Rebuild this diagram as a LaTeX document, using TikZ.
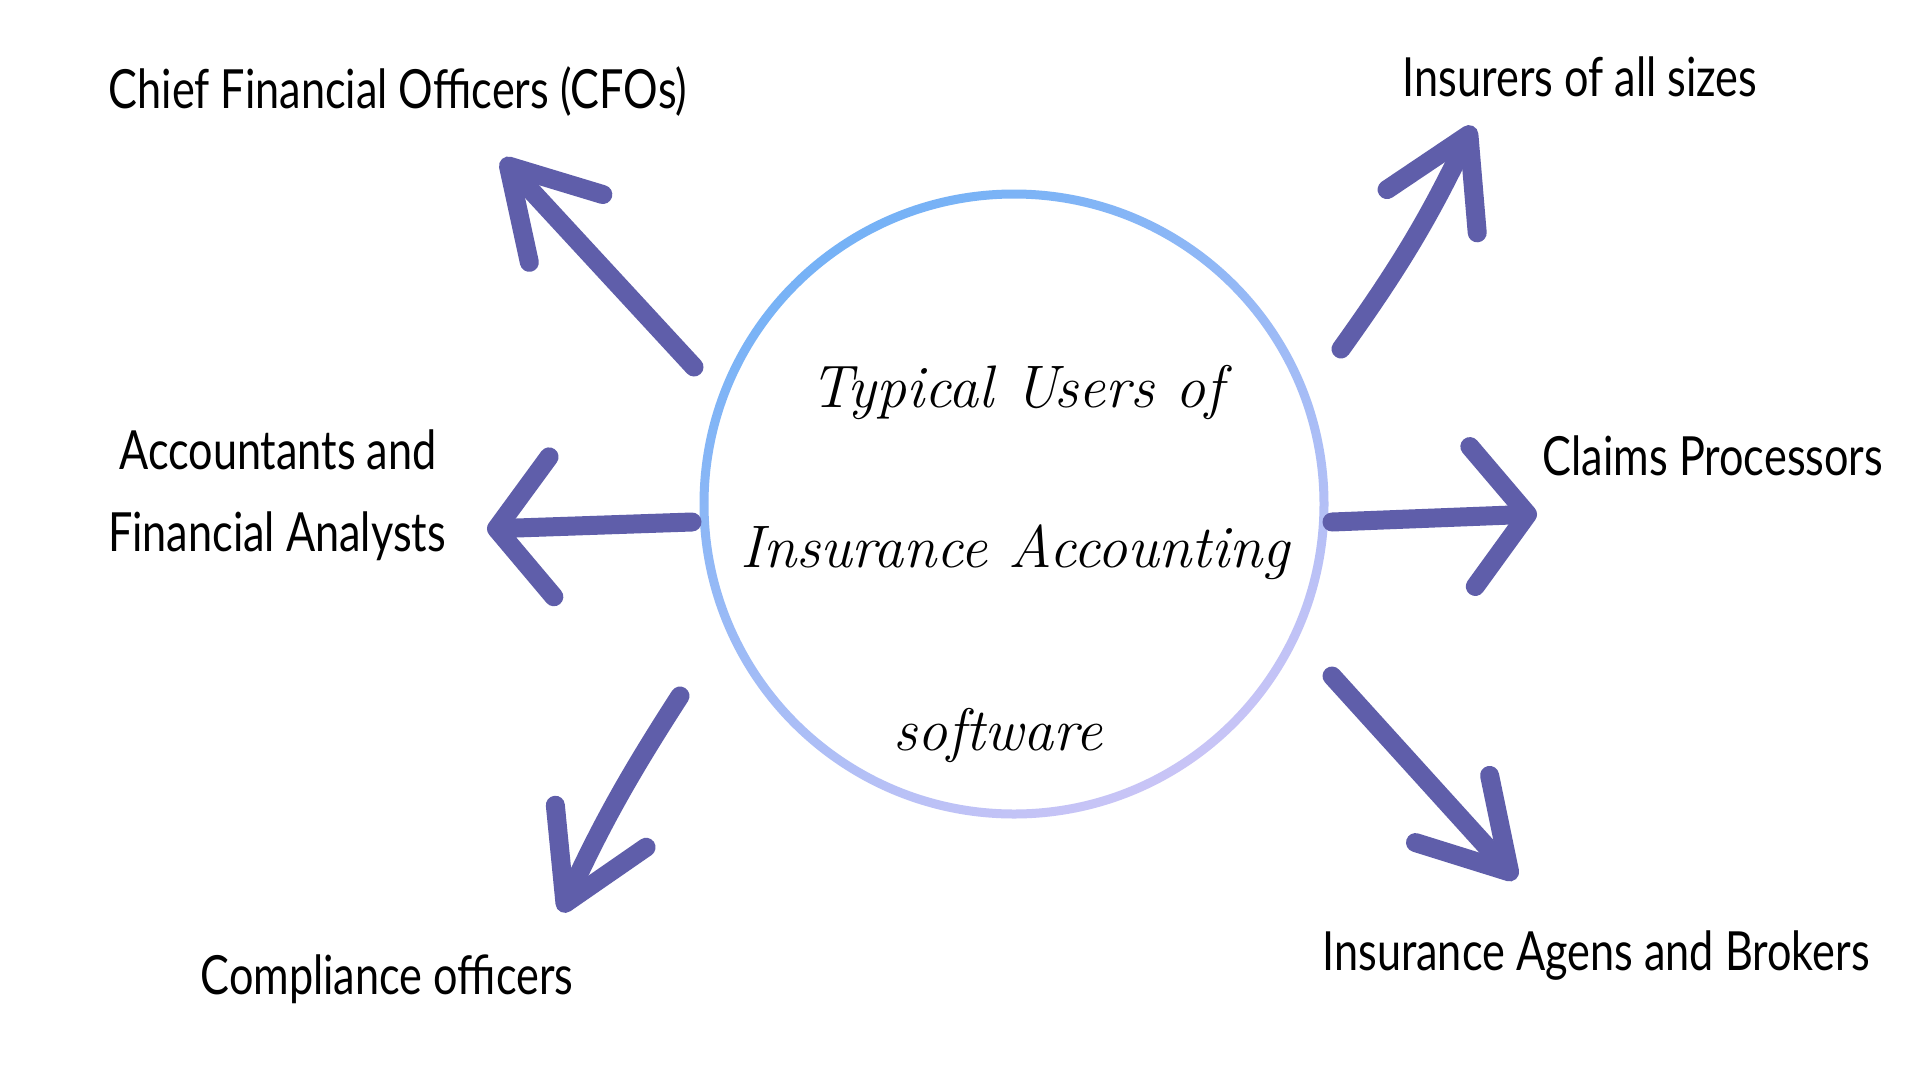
\documentclass[tikz,border=0pt]{standalone}
\usepackage{fontspec}
\newfontfamily\handfont[FakeStretch=0.8]{Lato}
\usetikzlibrary{arrows.meta,positioning}
\definecolor{arrowblue}{RGB}{95,94,170}
\definecolor{ringtop}{RGB}{118,178,246}
\definecolor{ringbottom}{RGB}{200,196,246}
\tikzset{
  user/.style={font=\handfont\fontsize{54}{64}\selectfont, anchor=base, inner sep=0pt},
  heading/.style={font=\itshape\fontsize{60}{70}\selectfont, anchor=base, inner sep=0pt},
  pointer/.style={draw=arrowblue, line width=19pt, line cap=round,
    -{Straight Barb[length=55pt,width=140pt,round]}},
  slant pointer/.style={pointer,
    -{Straight Barb[length=85pt,width=100pt,round]}},
}
\begin{document}
\begin{tikzpicture}[x=1pt,y=-1pt]
  \useasboundingbox[fill=white] (0,0) rectangle (1920,1080);
  % ring round the title
  \coordinate (hub) at (1014,504);
  \shade[top color=ringtop, bottom color=ringbottom, shading angle=30, even odd rule]
    (hub) circle (314.5) (hub) circle (305.5);
  \node[heading] (headA) at (1017,407) {Typical Users of};
  \node[heading] (headB) at (1015,567) {Insurance Accounting};
  \node[heading] (headC) at (998,750) {software};
  % arrows
  \coordinate (cfoTail) at (694,367);
  \coordinate (cfoTip) at (502,159);
  \coordinate (insTail) at (1341,349);
  \coordinate (insTip) at (1473,126);
  \coordinate (accTail) at (692,522);
  \coordinate (accTip) at (487,529);
  \coordinate (clmTail) at (1332,522);
  \coordinate (clmTip) at (1537,514);
  \coordinate (cmpTail) at (680,696);
  \coordinate (cmpTip) at (561,912);
  \coordinate (agtTail) at (1332,676);
  \coordinate (agtTip) at (1516,879);
  \draw[slant pointer] (cfoTail) -- (cfoTip);
  \draw[slant pointer] (insTail) to[bend right=5] (insTip);
  \draw[pointer] (accTail) -- (accTip);
  \draw[pointer] (clmTail) -- (clmTip);
  \draw[slant pointer] (cmpTail) to[bend right=4] (cmpTip);
  \draw[slant pointer] (agtTail) -- (agtTip);
  % users
  \node[user] (cfo) at (398,108) {Chief Financial Officers (CFOs)};
  \node[user] (insurers) at (1580,96) {Insurers of all sizes};
  \node[user] (accountants) at (278,469) {Accountants and};
  \node[user] (analysts) at (277,551) {Financial Analysts};
  \node[user] (claims) at (1713,475) {Claims Processors};
  \node[user] (compliance) at (387,994) {Compliance officers};
  \node[user] (agents) at (1596,970) {Insurance Agens and Brokers};
\end{tikzpicture}
\end{document}
